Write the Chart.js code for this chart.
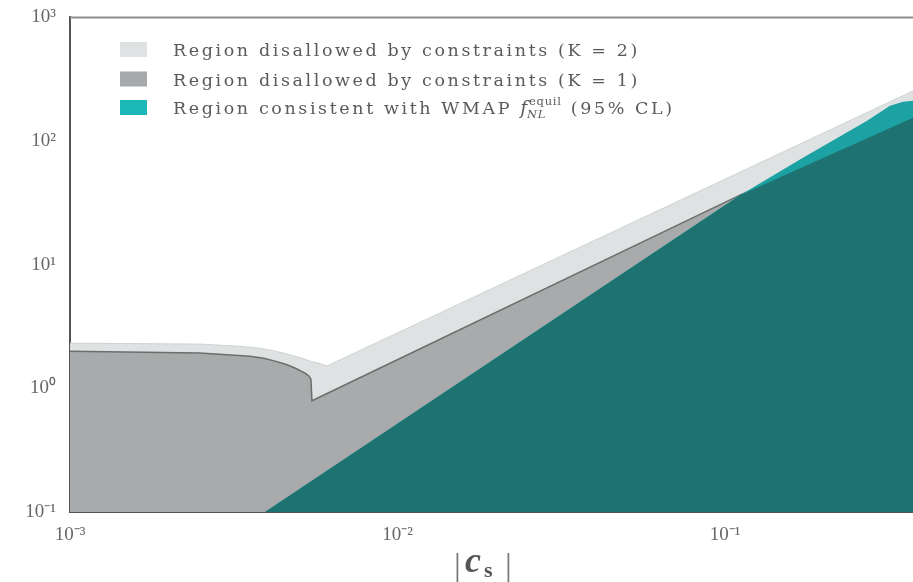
<!DOCTYPE html>
<html>
<head>
<meta charset="utf-8">
<script src="https://cdn.jsdelivr.net/npm/chart.js@4.4.3/dist/chart.umd.min.js"></script>
<style>
  html, body { margin: 0; padding: 0; background: #fff; }
  #wrap { width: 913px; height: 582px; position: relative; }
</style>
</head>
<body>
<div id="wrap"><canvas id="chart"></canvas></div>
<script>
// ---- data (log-log axes) ----
const xTicks = [0.001, 0.01, 0.1];
const xTickLabels = ["10\u207B\u00B3", "10\u207B\u00B2", "10\u207B\u00B9"];
const yTicks = [0.1, 1, 10, 100, 1000];
const yTickLabels = ["10\u207B\u00B9", "10\u2070", "10\u00B9", "10\u00B2", "10\u00B3"];

// region disallowed by constraints, K = 2 (upper boundary)
const k2X = [0.001, 0.00249, 0.0033, 0.00375, 0.00408, 0.00448, 0.00486, 0.00515, 0.00541, 0.00572, 0.00609, 0.375];
const k2Y = [2.32, 2.28, 2.19, 2.12, 2.04, 1.93, 1.82, 1.74, 1.66, 1.60, 1.517, 254];

// region disallowed by constraints, K = 1 (upper boundary)
const k1X = [0.001, 0.00249, 0.003545, 0.0039, 0.00423, 0.00458, 0.00486, 0.00508, 0.00522, 0.00536, 0.00544, 0.00548, 0.1111, 0.375];
const k1Y = [2.00, 1.93, 1.82, 1.75, 1.66, 1.56, 1.46, 1.38, 1.33, 1.26, 1.19, 0.794, 36.5, 154.5];

// region consistent with WMAP f_NL (upper boundary)
const wmapX = [0.00394, 0.1111, 0.1694, 0.2715, 0.319, 0.3497, 0.375];
const wmapY = [0.1, 36.5, 71.0, 146, 192.8, 207.6, 211.5];

// overlap of the WMAP region with the K = 1 region
const overlapX = [0.00394, 0.1111, 0.375];
const overlapY = [0.1, 36.5, 154.5];

const legendLabels = [
    "Region disallowed by constraints (K = 2)",
    "Region disallowed by constraints (K = 1)",
    "Region consistent with WMAP "
];
const legendColors = ["#dfe2e2", "#a6a8a9", "#1cb8b8"];

const zip = (xs, ys) => xs.map((x, i) => ({ x, y: ys[i] }));

const legendFont = "17.5px 'DejaVu Serif'";
const legendSpacing = "2.6px";

// draws the legend, top border and the |c_s| axis title
const decorPlugin = {
    id: "decor",
    afterDraw(chart) {
        const ctx = chart.ctx;
        const area = chart.chartArea;

        // top frame line
        ctx.save();
        ctx.strokeStyle = "#8e8e8e";
        ctx.lineWidth = 2;
        ctx.beginPath();
        ctx.moveTo(area.left, area.top);
        ctx.lineTo(area.right, area.top);
        ctx.stroke();
        ctx.restore();

        // legend
        const baselines = [56, 85.5, 114];
        ctx.save();
        ctx.letterSpacing = legendSpacing;
        ctx.textBaseline = "alphabetic";
        legendLabels.forEach((label, i) => {
            ctx.fillStyle = legendColors[i];
            ctx.fillRect(120, baselines[i] - 14, 27, 15);
            ctx.fillStyle = "#5a5a5a";
            ctx.font = legendFont;
            ctx.fillText(label, 173, baselines[i]);
        });
        // rich part of the third entry: f_NL^equil (95% CL)
        let x = 173 + ctx.measureText(legendLabels[2]).width;
        const b = baselines[2];
        ctx.font = "italic 19px 'DejaVu Serif'";
        ctx.fillText("f", x, b);
        x += ctx.measureText("f").width - 1;
        ctx.letterSpacing = "0.8px";
        ctx.font = "11.5px 'DejaVu Serif'";
        ctx.fillText("equil", x, b - 9);
        const w1 = ctx.measureText("equil").width;
        ctx.font = "italic 11.5px 'DejaVu Serif'";
        ctx.fillText("NL", x - 2, b + 4);
        x += w1 + 9;
        ctx.letterSpacing = legendSpacing;
        ctx.font = legendFont;
        ctx.fillText("(95% CL)", x, b);
        ctx.restore();

        // axis title |c_s|
        ctx.save();
        ctx.fillStyle = "#777";
        ctx.textBaseline = "alphabetic";
        ctx.font = "34px 'Liberation Serif'";
        ctx.fillText("|", 454, 577);
        ctx.fillText("|", 505, 577);
        ctx.fillStyle = "#555";
        ctx.font = "italic bold 36px 'Liberation Serif'";
        ctx.fillText("c", 465, 572);
        ctx.font = "bold 22px 'Liberation Serif'";
        ctx.fillText("s", 484, 577);
        ctx.restore();
    }
};

const tickFont = { family: "'Liberation Serif'", size: 19 };

new Chart(document.getElementById("chart"), {
    type: "scatter",
    data: {
        datasets: [
            {
                label: legendLabels[0],
                data: zip(k2X, k2Y),
                order: 4,
                showLine: true,
                fill: "start",
                backgroundColor: "#dfe2e2",
                borderColor: "#cfd2d2",
                borderWidth: 1,
                pointRadius: 0
            },
            {
                label: legendLabels[1],
                data: zip(k1X, k1Y),
                order: 3,
                showLine: true,
                fill: "start",
                backgroundColor: "#a8aaab",
                borderColor: "#6c6e6e",
                borderWidth: 1.5,
                pointRadius: 0
            },
            {
                label: legendLabels[2],
                data: zip(wmapX, wmapY),
                order: 2,
                showLine: true,
                fill: "start",
                backgroundColor: "#1ca2a2",
                borderColor: "#1ca2a2",
                borderWidth: 0,
                pointRadius: 0
            },
            {
                label: "overlap",
                data: zip(overlapX, overlapY),
                order: 1,
                showLine: true,
                fill: "start",
                backgroundColor: "#1e7272",
                borderColor: "#1e7272",
                borderWidth: 0,
                pointRadius: 0
            }
        ]
    },
    options: {
        responsive: true,
        maintainAspectRatio: false,
        animation: false,
        layout: { padding: { top: 14, left: 0, right: 0, bottom: 0 } },
        plugins: {
            legend: { display: false },
            tooltip: { enabled: false }
        },
        scales: {
            x: {
                type: "logarithmic",
                min: 0.001,
                max: 0.375,
                afterFit(scale) { scale.height = 70; },
                afterBuildTicks(scale) { scale.ticks = xTicks.map(v => ({ value: v })); },
                grid: { display: false },
                border: { display: true, color: "#555", width: 2 },
                ticks: {
                    color: "#666",
                    font: tickFont,
                    padding: 4,
                    maxRotation: 0,
                    autoSkip: false,
                    callback: (v) => xTickLabels[xTicks.indexOf(v)] ?? ""
                }
            },
            y: {
                type: "logarithmic",
                min: 0.1,
                max: 1000,
                afterFit(scale) { scale.width = 70; },
                afterBuildTicks(scale) { scale.ticks = yTicks.map(v => ({ value: v })); },
                grid: { display: false },
                border: { display: true, color: "#555", width: 2 },
                ticks: {
                    color: "#666",
                    font: tickFont,
                    padding: 6,
                    autoSkip: false,
                    callback: (v) => yTickLabels[yTicks.indexOf(v)] ?? ""
                }
            }
        }
    },
    plugins: [decorPlugin]
});
</script>
</body>
</html>
